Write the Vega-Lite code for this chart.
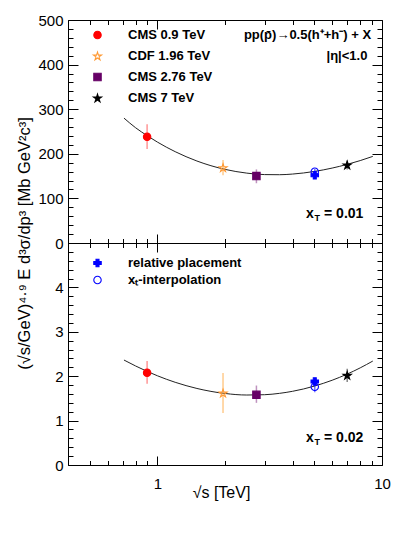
{
  "$schema": "https://vega.github.io/schema/vega-lite/v6.json",
  "background": "white",
  "padding": {"left": 15, "top": 12, "right": 12, "bottom": 10},
  "bounds": "flush",
  "spacing": 0,
  "config": {
    "font": "Liberation Sans",
    "view": {"stroke": "black", "strokeWidth": 1},
    "axis": {"grid": false, "domain": false, "tickColor": "black", "tickWidth": 1, "labelFont": "Liberation Sans", "labelFontSize": 15, "labelColor": "black", "titleFont": "Liberation Sans", "titleFontWeight": "normal", "titleColor": "black", "labelFlush": false, "labelOverlap": false},
    "legend": {"labelFont": "Liberation Sans", "labelFontSize": 13, "labelFontWeight": "bold", "labelColor": "black", "symbolSize": 55, "symbolStrokeWidth": 1.1}
  },
  "datasets": {
    "pointsTop": [
      {"label": "CMS 0.9 TeV", "sqrts": 0.9, "value": 238, "lo": 211, "hi": 266},
      {"label": "CDF 1.96 TeV", "sqrts": 1.96, "value": 169, "lo": 152, "hi": 186},
      {"label": "CMS 2.76 TeV", "sqrts": 2.76, "value": 150, "lo": 134, "hi": 165},
      {"label": "relative placement", "sqrts": 5.02, "value": 152, "lo": null, "hi": null},
      {"label": "xₜ-interpolation", "sqrts": 5.02, "value": 160, "lo": 154, "hi": 166},
      {"label": "CMS 7 TeV", "sqrts": 7.0, "value": 175, "lo": 165, "hi": 185}
    ],
    "pointsBottom": [
      {"label": "CMS 0.9 TeV", "sqrts": 0.9, "value": 2.08, "lo": 1.83, "hi": 2.34},
      {"label": "CDF 1.96 TeV", "sqrts": 1.96, "value": 1.62, "lo": 1.17, "hi": 2.07},
      {"label": "CMS 2.76 TeV", "sqrts": 2.76, "value": 1.58, "lo": 1.40, "hi": 1.79},
      {"label": "relative placement", "sqrts": 5.02, "value": 1.88, "lo": null, "hi": null},
      {"label": "xₜ-interpolation", "sqrts": 5.02, "value": 1.76, "lo": 1.64, "hi": 1.88},
      {"label": "CMS 7 TeV", "sqrts": 7.0, "value": 2.02, "lo": 1.87, "hi": 2.17}
    ],
    "curveTop": [
      {"sqrts": 0.71, "value": 280}, {"sqrts": 0.8, "value": 258.4}, {"sqrts": 0.9, "value": 240.7},
      {"sqrts": 1.0, "value": 226.3}, {"sqrts": 1.2, "value": 204.8}, {"sqrts": 1.5, "value": 183.8},
      {"sqrts": 2.0, "value": 165.1}, {"sqrts": 2.5, "value": 156.7}, {"sqrts": 3.0, "value": 153.4},
      {"sqrts": 3.5, "value": 153.1}, {"sqrts": 4.0, "value": 154.6}, {"sqrts": 5.0, "value": 160.4},
      {"sqrts": 6.0, "value": 168}, {"sqrts": 7.0, "value": 176.3}, {"sqrts": 8.0, "value": 184.8},
      {"sqrts": 9.1, "value": 194.2}
    ],
    "curveBottom": [
      {"sqrts": 0.71, "value": 2.364}, {"sqrts": 0.8, "value": 2.23}, {"sqrts": 0.9, "value": 2.109},
      {"sqrts": 1.0, "value": 2.01}, {"sqrts": 1.2, "value": 1.863}, {"sqrts": 1.5, "value": 1.724},
      {"sqrts": 2.0, "value": 1.611}, {"sqrts": 2.5, "value": 1.576}, {"sqrts": 3.0, "value": 1.583},
      {"sqrts": 3.5, "value": 1.614}, {"sqrts": 4.0, "value": 1.66}, {"sqrts": 5.0, "value": 1.777},
      {"sqrts": 6.0, "value": 1.909}, {"sqrts": 7.0, "value": 2.048}, {"sqrts": 8.0, "value": 2.188},
      {"sqrts": 9.1, "value": 2.341}
    ],
    "notesTop": [
      {"sqrts": 8.94, "value": 457, "text": "pp(p̄)→0.5(h⁺+h⁻) + X"},
      {"sqrts": 8.61, "value": 410, "text": "|η|<1.0"}
    ],
    "xtTop": [{"sqrts": 4.59, "value": 56, "main": "x", "sub": "T", "rest": "= 0.01"}],
    "xtBottom": [{"sqrts": 4.59, "value": 0.515, "main": "x", "sub": "T", "rest": "= 0.02"}]
  },
  "vconcat": [
    {
      "width": 314,
      "height": 223,
      "resolve": {"axis": {"x": "independent", "y": "independent"}},
      "layer": [
        {
          "data": {"name": "curveTop"},
          "mark": {"type": "line", "color": "#222222", "strokeWidth": 1, "interpolate": "monotone"},
          "encoding": {
            "x": {"field": "sqrts", "type": "quantitative", "scale": {"type": "log", "domain": [0.4, 10], "nice": false},
              "axis": {"orient": "bottom", "values": [0.4, 0.5, 0.6, 0.7, 0.8, 0.9, 1, 2, 3, 4, 5, 6, 7, 8, 9, 10], "labels": false, "title": null,
                "tickSize": {"condition": {"test": "datum.value == 1 || datum.value == 10", "value": -9}, "value": -4.5}}},
            "y": {"field": "value", "type": "quantitative", "scale": {"domain": [0, 500], "nice": false},
              "axis": {"orient": "left", "values": [0, 20, 40, 60, 80, 100, 120, 140, 160, 180, 200, 220, 240, 260, 280, 300, 320, 340, 360, 380, 400, 420, 440, 460, 480, 500],
                "labelExpr": "datum.value % 100 === 0 ? format(datum.value, 'd') : ''", "labelPadding": 15, "labelBaseline": "middle",
                "tickSize": {"condition": {"test": "datum.value % 100 === 0", "value": -10}, "value": -5},
                "title": "(√s/GeV)⁴·⁹ E d³σ/dp³ [Mb GeV²c³]", "titleFontSize": 16.5, "titleX": -44, "titleY": 223, "titleAngle": -90, "titleAlign": "center", "titleBaseline": "middle"}}
          }
        },
        {
          "data": {"name": "pointsTop"},
          "transform": [{"filter": "isValid(datum.lo)"}],
          "mark": {"type": "rule", "strokeWidth": 1.5, "opacity": 0.55},
          "encoding": {
            "x": {"field": "sqrts", "type": "quantitative", "scale": {"type": "log", "domain": [0.4, 10], "nice": false},
              "axis": {"orient": "top", "values": [0.4, 0.5, 0.6, 0.7, 0.8, 0.9, 1, 2, 3, 4, 5, 6, 7, 8, 9, 10], "labels": false, "title": null,
                "tickSize": {"condition": {"test": "datum.value == 1 || datum.value == 10", "value": -9}, "value": -4.5}}},
            "y": {"field": "lo", "type": "quantitative", "scale": {"domain": [0, 500], "nice": false},
              "axis": {"orient": "right", "values": [0, 20, 40, 60, 80, 100, 120, 140, 160, 180, 200, 220, 240, 260, 280, 300, 320, 340, 360, 380, 400, 420, 440, 460, 480, 500],
                "labels": false, "title": null,
                "tickSize": {"condition": {"test": "datum.value % 100 === 0", "value": -10}, "value": -5}}},
            "y2": {"field": "hi"},
            "color": {"field": "label", "type": "nominal", "legend": null,
              "scale": {"domain": ["CMS 0.9 TeV", "CDF 1.96 TeV", "CMS 2.76 TeV", "CMS 7 TeV", "xₜ-interpolation"],
                "range": ["#ff4040", "#ffa030", "#8a3a8a", "#202020", "#0000ff"]}}
          }
        },
        {
          "data": {"name": "pointsTop"},
          "mark": {"type": "point", "size": 55, "strokeWidth": 1.1, "opacity": 1},
          "encoding": {
            "x": {"field": "sqrts", "type": "quantitative", "scale": {"type": "log", "domain": [0.4, 10], "nice": false}, "axis": null},
            "y": {"field": "value", "type": "quantitative", "scale": {"domain": [0, 500], "nice": false}, "axis": null},
            "shape": {"field": "label", "type": "nominal",
              "scale": {"domain": ["CMS 0.9 TeV", "CDF 1.96 TeV", "CMS 2.76 TeV", "CMS 7 TeV", "relative placement", "xₜ-interpolation"],
                "range": ["circle", "M0,-1.04L0.259,-0.246L1.094,-0.245L0.418,0.246L0.676,1.04L0,0.55L-0.676,1.04L-0.418,0.246L-1.094,-0.245L-0.259,-0.246Z", "square", "M0,-1.04L0.259,-0.246L1.094,-0.245L0.418,0.246L0.676,1.04L0,0.55L-0.676,1.04L-0.418,0.246L-1.094,-0.245L-0.259,-0.246Z", "cross", "circle"]},
              "legend": {"orient": "none", "title": null, "padding": 0, "values": ["CMS 0.9 TeV", "CDF 1.96 TeV", "CMS 2.76 TeV", "CMS 7 TeV"], "legendX": 23, "legendY": 8.5, "labelOffset": 24, "rowPadding": 7}},
            "fill": {"field": "label", "type": "nominal",
              "scale": {"domain": ["CMS 0.9 TeV", "CDF 1.96 TeV", "CMS 2.76 TeV", "CMS 7 TeV", "relative placement", "xₜ-interpolation"],
                "range": ["#ff0000", "transparent", "#660066", "#000000", "#0000ff", "transparent"]},
              "legend": {"orient": "none", "title": null, "padding": 0, "values": ["CMS 0.9 TeV", "CDF 1.96 TeV", "CMS 2.76 TeV", "CMS 7 TeV"], "legendX": 23, "legendY": 8.5, "labelOffset": 24, "rowPadding": 7}},
            "stroke": {"field": "label", "type": "nominal",
              "scale": {"domain": ["CMS 0.9 TeV", "CDF 1.96 TeV", "CMS 2.76 TeV", "CMS 7 TeV", "relative placement", "xₜ-interpolation"],
                "range": ["#ff0000", "#ff9933", "#660066", "#000000", "#0000ff", "#0000ff"]},
              "legend": {"orient": "none", "title": null, "padding": 0, "values": ["CMS 0.9 TeV", "CDF 1.96 TeV", "CMS 2.76 TeV", "CMS 7 TeV"], "legendX": 23, "legendY": 8.5, "labelOffset": 24, "rowPadding": 7}}
          }
        },
        {
          "data": {"name": "notesTop"},
          "mark": {"type": "text", "align": "right", "baseline": "alphabetic", "fontSize": 13, "fontWeight": "bold", "color": "black"},
          "encoding": {
            "x": {"field": "sqrts", "type": "quantitative", "scale": {"type": "log", "domain": [0.4, 10], "nice": false}, "axis": null},
            "y": {"field": "value", "type": "quantitative", "scale": {"domain": [0, 500], "nice": false}, "axis": null},
            "text": {"field": "text"}
          }
        },
        {
          "data": {"name": "xtTop"},
          "mark": {"type": "text", "align": "left", "baseline": "alphabetic", "fontSize": 14, "fontWeight": "bold", "color": "black"},
          "encoding": {
            "x": {"field": "sqrts", "type": "quantitative", "scale": {"type": "log", "domain": [0.4, 10], "nice": false}, "axis": null},
            "y": {"field": "value", "type": "quantitative", "scale": {"domain": [0, 500], "nice": false}, "axis": null},
            "text": {"field": "main"}
          }
        },
        {
          "data": {"name": "xtTop"},
          "mark": {"type": "text", "align": "left", "baseline": "alphabetic", "fontSize": 9, "fontWeight": "bold", "color": "black", "dx": 8.5, "dy": 3},
          "encoding": {
            "x": {"field": "sqrts", "type": "quantitative", "scale": {"type": "log", "domain": [0.4, 10], "nice": false}, "axis": null},
            "y": {"field": "value", "type": "quantitative", "scale": {"domain": [0, 500], "nice": false}, "axis": null},
            "text": {"field": "sub"}
          }
        },
        {
          "data": {"name": "xtTop"},
          "mark": {"type": "text", "align": "left", "baseline": "alphabetic", "fontSize": 14, "fontWeight": "bold", "color": "black", "dx": 18},
          "encoding": {
            "x": {"field": "sqrts", "type": "quantitative", "scale": {"type": "log", "domain": [0.4, 10], "nice": false}, "axis": null},
            "y": {"field": "value", "type": "quantitative", "scale": {"domain": [0, 500], "nice": false}, "axis": null},
            "text": {"field": "rest"}
          }
        }
      ]
    },
    {
      "width": 314,
      "height": 222,
      "resolve": {"axis": {"x": "independent", "y": "independent"}},
      "layer": [
        {
          "data": {"name": "curveBottom"},
          "mark": {"type": "line", "color": "#222222", "strokeWidth": 1, "interpolate": "monotone"},
          "encoding": {
            "x": {"field": "sqrts", "type": "quantitative", "scale": {"type": "log", "domain": [0.4, 10], "nice": false},
              "axis": {"orient": "bottom", "values": [0.4, 0.5, 0.6, 0.7, 0.8, 0.9, 1, 2, 3, 4, 5, 6, 7, 8, 9, 10],
                "labelExpr": "datum.value == 1 ? '1' : (datum.value == 10 ? '10' : '')", "labelPadding": 20, "labelBaseline": "top",
                "tickSize": {"condition": {"test": "datum.value == 1 || datum.value == 10", "value": -9}, "value": -4.5},
                "title": "√s [TeV]", "titleFontSize": 16, "titleX": 153, "titleY": 32.5, "titleBaseline": "alphabetic", "titleAlign": "center"}},
            "y": {"field": "value", "type": "quantitative", "scale": {"domain": [0, 5], "nice": false},
              "axis": {"orient": "left", "values": [0, 0.2, 0.4, 0.6, 0.8, 1, 1.2, 1.4, 1.6, 1.8, 2, 2.2, 2.4, 2.6, 2.8, 3, 3.2, 3.4, 3.6, 3.8, 4, 4.2, 4.4, 4.6, 4.8, 5],
                "labelExpr": "datum.value % 1 === 0 && datum.value < 5 ? format(datum.value, 'd') : ''", "labelPadding": 15, "labelBaseline": "middle",
                "tickSize": {"condition": {"test": "datum.value % 1 === 0", "value": -10}, "value": -5},
                "title": null}}
          }
        },
        {
          "data": {"name": "pointsBottom"},
          "transform": [{"filter": "isValid(datum.lo)"}],
          "mark": {"type": "rule", "strokeWidth": 1.5, "opacity": 0.55},
          "encoding": {
            "x": {"field": "sqrts", "type": "quantitative", "scale": {"type": "log", "domain": [0.4, 10], "nice": false},
              "axis": {"orient": "top", "values": [0.4, 0.5, 0.6, 0.7, 0.8, 0.9, 1, 2, 3, 4, 5, 6, 7, 8, 9, 10], "labels": false, "title": null,
                "tickSize": {"condition": {"test": "datum.value == 1 || datum.value == 10", "value": -9}, "value": -4.5}}},
            "y": {"field": "lo", "type": "quantitative", "scale": {"domain": [0, 5], "nice": false},
              "axis": {"orient": "right", "values": [0, 0.2, 0.4, 0.6, 0.8, 1, 1.2, 1.4, 1.6, 1.8, 2, 2.2, 2.4, 2.6, 2.8, 3, 3.2, 3.4, 3.6, 3.8, 4, 4.2, 4.4, 4.6, 4.8, 5],
                "labels": false, "title": null,
                "tickSize": {"condition": {"test": "datum.value % 1 === 0", "value": -10}, "value": -5}}},
            "y2": {"field": "hi"},
            "color": {"field": "label", "type": "nominal", "legend": null,
              "scale": {"domain": ["CMS 0.9 TeV", "CDF 1.96 TeV", "CMS 2.76 TeV", "CMS 7 TeV", "xₜ-interpolation"],
                "range": ["#ff4040", "#ffa030", "#8a3a8a", "#202020", "#0000ff"]}}
          }
        },
        {
          "data": {"name": "pointsBottom"},
          "mark": {"type": "point", "size": 55, "strokeWidth": 1.1, "opacity": 1},
          "encoding": {
            "x": {"field": "sqrts", "type": "quantitative", "scale": {"type": "log", "domain": [0.4, 10], "nice": false}, "axis": null},
            "y": {"field": "value", "type": "quantitative", "scale": {"domain": [0, 5], "nice": false}, "axis": null},
            "shape": {"field": "label", "type": "nominal",
              "scale": {"domain": ["CMS 0.9 TeV", "CDF 1.96 TeV", "CMS 2.76 TeV", "CMS 7 TeV", "relative placement", "xₜ-interpolation"],
                "range": ["circle", "M0,-1.04L0.259,-0.246L1.094,-0.245L0.418,0.246L0.676,1.04L0,0.55L-0.676,1.04L-0.418,0.246L-1.094,-0.245L-0.259,-0.246Z", "square", "M0,-1.04L0.259,-0.246L1.094,-0.245L0.418,0.246L0.676,1.04L0,0.55L-0.676,1.04L-0.418,0.246L-1.094,-0.245L-0.259,-0.246Z", "cross", "circle"]},
              "legend": {"orient": "none", "title": null, "padding": 0, "values": ["relative placement", "xₜ-interpolation"], "legendX": 23, "legendY": 13.5, "labelOffset": 24, "rowPadding": 3}},
            "fill": {"field": "label", "type": "nominal",
              "scale": {"domain": ["CMS 0.9 TeV", "CDF 1.96 TeV", "CMS 2.76 TeV", "CMS 7 TeV", "relative placement", "xₜ-interpolation"],
                "range": ["#ff0000", "transparent", "#660066", "#000000", "#0000ff", "transparent"]},
              "legend": {"orient": "none", "title": null, "padding": 0, "values": ["relative placement", "xₜ-interpolation"], "legendX": 23, "legendY": 13.5, "labelOffset": 24, "rowPadding": 3}},
            "stroke": {"field": "label", "type": "nominal",
              "scale": {"domain": ["CMS 0.9 TeV", "CDF 1.96 TeV", "CMS 2.76 TeV", "CMS 7 TeV", "relative placement", "xₜ-interpolation"],
                "range": ["#ff0000", "#ff9933", "#660066", "#000000", "#0000ff", "#0000ff"]},
              "legend": {"orient": "none", "title": null, "padding": 0, "values": ["relative placement", "xₜ-interpolation"], "legendX": 23, "legendY": 13.5, "labelOffset": 24, "rowPadding": 3}}
          }
        },
        {
          "data": {"name": "xtBottom"},
          "mark": {"type": "text", "align": "left", "baseline": "alphabetic", "fontSize": 14, "fontWeight": "bold", "color": "black"},
          "encoding": {
            "x": {"field": "sqrts", "type": "quantitative", "scale": {"type": "log", "domain": [0.4, 10], "nice": false}, "axis": null},
            "y": {"field": "value", "type": "quantitative", "scale": {"domain": [0, 5], "nice": false}, "axis": null},
            "text": {"field": "main"}
          }
        },
        {
          "data": {"name": "xtBottom"},
          "mark": {"type": "text", "align": "left", "baseline": "alphabetic", "fontSize": 9, "fontWeight": "bold", "color": "black", "dx": 8.5, "dy": 3},
          "encoding": {
            "x": {"field": "sqrts", "type": "quantitative", "scale": {"type": "log", "domain": [0.4, 10], "nice": false}, "axis": null},
            "y": {"field": "value", "type": "quantitative", "scale": {"domain": [0, 5], "nice": false}, "axis": null},
            "text": {"field": "sub"}
          }
        },
        {
          "data": {"name": "xtBottom"},
          "mark": {"type": "text", "align": "left", "baseline": "alphabetic", "fontSize": 14, "fontWeight": "bold", "color": "black", "dx": 18},
          "encoding": {
            "x": {"field": "sqrts", "type": "quantitative", "scale": {"type": "log", "domain": [0.4, 10], "nice": false}, "axis": null},
            "y": {"field": "value", "type": "quantitative", "scale": {"domain": [0, 5], "nice": false}, "axis": null},
            "text": {"field": "rest"}
          }
        }
      ]
    }
  ],
  "resolve": {
    "scale": {"x": "independent", "y": "independent", "shape": "independent", "fill": "independent", "stroke": "independent", "color": "independent"},
    "legend": {"shape": "independent", "fill": "independent", "stroke": "independent"}
  }
}
